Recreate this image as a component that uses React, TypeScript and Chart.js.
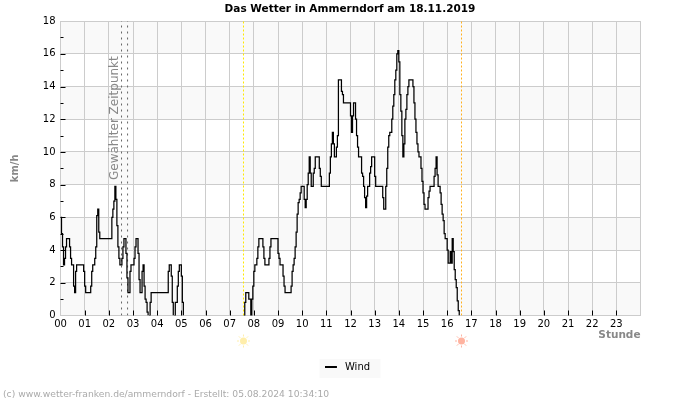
import React, { useEffect, useRef } from "react";
import { Chart, registerables } from "chart.js";

Chart.register(...registerables);

const titleText = "Das Wetter in Ammerndorf am 18.11.2019";
const footerText = "(c) www.wetter-franken.de/ammerndorf - Erstellt: 05.08.2024 10:34:10";
const selectedLabel = "Gewählter Zeitpunkt";
const seriesName = "Wind";

// Wind speed in km/h, one row per hour, 24 readings per hour (every 2.5 minutes).
const h00 = [6.0, 5.0, 4.2, 3.1, 3.5, 4.2, 4.7, 4.7, 4.7, 4.2, 3.5, 3.1, 3.1, 1.8, 1.4, 2.7, 3.1, 3.1, 3.1, 3.1, 3.1, 3.1, 3.1, 2.7];
const h01 = [1.8, 1.4, 1.4, 1.4, 1.4, 1.4, 1.8, 2.7, 3.1, 3.1, 3.5, 4.2, 6.1, 6.5, 5.1, 4.7, 4.7, 4.7, 4.7, 4.7, 4.7, 4.7, 4.7, 4.7];
const h02 = [4.7, 4.7, 4.7, 6.0, 6.5, 7.0, 7.9, 7.1, 5.5, 4.2, 3.5, 3.1, 3.1, 3.5, 4.2, 4.7, 4.7, 3.8, 2.3, 1.4, 1.4, 2.7, 3.1, 3.1];
const h03 = [3.1, 3.5, 4.2, 4.7, 4.7, 3.8, 2.2, 1.4, 1.4, 2.7, 3.1, 1.8, 1.0, 0.8, 0.2, 0, 0, 0.8, 1.4, 1.4, 1.4, 1.4, 1.4, 1.4];
const h04 = [1.4, 1.4, 1.4, 1.4, 1.4, 1.4, 1.4, 1.4, 1.4, 1.4, 1.4, 2.7, 3.1, 3.1, 2.4, 0.8, 0, 0, 0.8, 0.8, 1.8, 2.7, 3.1, 3.1];
const h05 = [2.4, 0.8, 0, 0, 0, 0, 0, 0, 0, 0, 0, 0, 0, 0, 0, 0, 0, 0, 0, 0, 0, 0, 0, 0];
const h06 = [0, 0, 0, 0, 0, 0, 0, 0, 0, 0, 0, 0, 0, 0, 0, 0, 0, 0, 0, 0, 0, 0, 0, 0];
const h07 = [0, 0, 0, 0, 0, 0, 0, 0, 0, 0, 0, 0, 0, 0, 0, 0.8, 1.4, 1.4, 1.4, 1.0, 1.0, 0, 1.0, 1.8];
const h08 = [2.7, 3.1, 3.1, 3.5, 4.2, 4.7, 4.7, 4.7, 4.7, 4.2, 3.5, 3.1, 3.1, 3.1, 3.1, 3.5, 4.2, 4.7, 4.7, 4.7, 4.7, 4.7, 4.7, 4.7];
const h09 = [3.8, 3.5, 3.1, 3.1, 3.1, 2.4, 1.8, 1.4, 1.4, 1.4, 1.4, 1.4, 1.4, 1.8, 2.7, 3.1, 3.5, 4.2, 5.1, 6.2, 6.9, 7.1, 7.5, 7.9];
const h10 = [7.9, 7.9, 7.1, 6.6, 7.1, 8.0, 8.7, 9.7, 8.7, 7.9, 7.9, 8.7, 9.0, 9.7, 9.7, 9.7, 9.7, 9.0, 8.5, 7.9, 7.9, 7.9, 7.9, 7.9];
const h11 = [7.9, 7.9, 7.9, 8.7, 9.7, 10.5, 11.2, 10.5, 9.7, 9.7, 10.3, 11.0, 14.4, 14.4, 14.4, 13.7, 13.5, 13.0, 13.0, 13.0, 13.0, 13.0, 13.0, 13.0];
const h12 = [12.2, 11.2, 12.2, 13.0, 13.0, 12.0, 11.0, 10.3, 9.7, 9.7, 9.7, 8.7, 8.5, 7.9, 7.2, 6.6, 7.3, 7.9, 7.9, 8.7, 9.1, 9.7, 9.7, 9.7];
const h13 = [8.5, 7.9, 7.9, 7.9, 7.9, 7.9, 7.9, 7.9, 7.2, 6.5, 6.5, 7.9, 9.0, 10.3, 11.0, 11.2, 11.2, 12.0, 12.8, 13.5, 14.4, 15.0, 16.0, 16.2];
const h14 = [15.5, 13.5, 12.5, 11.0, 9.7, 10.5, 12.0, 12.6, 13.5, 14.0, 14.4, 14.4, 14.4, 14.4, 14.0, 13.0, 12.0, 11.2, 10.5, 10.0, 9.7, 9.7, 9.0, 8.2];
const h15 = [7.5, 6.8, 6.5, 6.5, 6.5, 7.2, 7.6, 7.9, 7.9, 7.9, 7.9, 8.5, 9.0, 9.7, 8.6, 7.9, 7.9, 7.5, 6.8, 6.2, 5.8, 5.0, 4.7, 4.7];
const h16 = [4.0, 3.2, 3.2, 3.9, 3.2, 4.7, 3.9, 2.8, 2.2, 1.7, 0.9, 0.3, 0];

const windKmh = [h00, h01, h02, h03, h04, h05, h06, h07, h08, h09, h10, h11, h12, h13, h14, h15, h16].flat();
const readingsPerHour = 24;

// Marker times in hours of the day.
const selectedTimes = [2.525, 2.775];
const sunriseTime = 7.572;
const sunsetTime = 16.593;

const font = "'DejaVu Sans', sans-serif";

function vertical(hour: number, color: string, dash: number[]) {
  return {
    label: "",
    data: [{ x: hour, y: 0 }, { x: hour, y: 18 }],
    borderColor: color,
    borderWidth: 1,
    borderDash: dash,
    pointRadius: 0,
    order: 5,
  };
}

// Small soft sun below the hour axis.
function drawSun(ctx: CanvasRenderingContext2D, x: number, y: number, color: string) {
  ctx.save();
  ctx.filter = "blur(0.3px)";
  ctx.strokeStyle = color;
  ctx.fillStyle = color;
  ctx.lineWidth = 1;
  ctx.beginPath();
  ctx.arc(x, y, 3.5, 0, Math.PI * 2);
  ctx.fill();
  for (let i = 0; i < 8; i++) {
    const a = (i * Math.PI) / 4;
    ctx.beginPath();
    ctx.moveTo(x + Math.cos(a) * 4.5, y + Math.sin(a) * 4.5);
    ctx.lineTo(x + Math.cos(a) * 6.5, y + Math.sin(a) * 6.5);
    ctx.stroke();
  }
  ctx.restore();
}

const decorations = {
  id: "weatherDecorations",
  afterLayout(chart: any) {
    chart.legend.left -= 5;
  },
  beforeDraw(chart: any) {
    const { ctx, chartArea, scales } = chart;
    // Alternating horizontal bands between the even speed ticks.
    ctx.save();
    ctx.fillStyle = "#f9f9f9";
    for (let v = 0; v < 18; v += 4) {
      const bottom = scales.y.getPixelForValue(v);
      const top = scales.y.getPixelForValue(v + 2);
      ctx.fillRect(chartArea.left, top, chartArea.right - chartArea.left, bottom - top);
    }
    // Backing of the legend.
    const hit = chart.legend.legendHitBoxes[0];
    ctx.fillRect(hit.left - 5.5, hit.top - 3, 61, 19);
    ctx.restore();
  },
  afterDatasetsDraw(chart: any) {
    const { ctx, chartArea, scales } = chart;
    ctx.save();
    // Inward tick marks: long on even speeds and every hour, short on odd speeds.
    ctx.strokeStyle = "#000";
    ctx.lineWidth = 1;
    for (let v = 1; v < 18; v++) {
      const y = Math.round(scales.y.getPixelForValue(v)) + 0.5;
      ctx.beginPath();
      ctx.moveTo(chartArea.left, y);
      ctx.lineTo(chartArea.left + (v % 2 === 0 ? 5 : 3), y);
      ctx.stroke();
    }
    for (let h = 1; h < 24; h++) {
      const x = Math.round(scales.x.getPixelForValue(h)) + 0.5;
      ctx.beginPath();
      ctx.moveTo(x, chartArea.bottom);
      ctx.lineTo(x, chartArea.bottom - 5);
      ctx.stroke();
    }
    // Label of the selected time, turned along the marker.
    ctx.translate(scales.x.getPixelForValue(selectedTimes[0]) - 3.6, 180);
    ctx.rotate(-Math.PI / 2);
    ctx.font = `12px ${font}`;
    ctx.fillStyle = "#888";
    ctx.textAlign = "left";
    ctx.textBaseline = "alphabetic";
    ctx.fillText(selectedLabel, 0, 0);
    ctx.restore();

    drawSun(ctx, scales.x.getPixelForValue(sunriseTime), 341, "#ffeeaa");
    drawSun(ctx, scales.x.getPixelForValue(sunsetTime), 341, "#ffb3a0");

    ctx.save();
    ctx.font = `9.2px ${font}`;
    ctx.fillStyle = "#aaa";
    ctx.textBaseline = "alphabetic";
    ctx.fillText(footerText, 3, 397);
    ctx.restore();
  },
};

export default function App() {
  const ref = useRef<HTMLCanvasElement>(null);

  useEffect(() => {
    const legendSample = document.createElement("canvas");
    legendSample.width = 15;
    legendSample.height = 2;
    const sampleCtx = legendSample.getContext("2d")!;
    sampleCtx.fillStyle = "#000";
    sampleCtx.fillRect(0, 0, 12, 2);

    const chart = new Chart(ref.current!, {
      type: "line",
      data: {
        datasets: [
          {
            label: seriesName,
            data: windKmh.map((y, i) => ({ x: i / readingsPerHour, y })),
            borderColor: "#000",
            backgroundColor: "#000",
            borderWidth: 1.25,
            stepped: true,
            pointRadius: 0,
            pointStyle: legendSample,
            order: 1,
            // Calm stretches stay off the axis line.
            segment: {
              borderColor: (c: any) => (c.p0.parsed.y === 0 && c.p1.parsed.y === 0 ? "transparent" : undefined),
            },
          },
          vertical(selectedTimes[0], "#666", [2, 4]),
          vertical(selectedTimes[1], "#666", [2, 4]),
          vertical(sunriseTime, "#ffe800", [2, 2]),
          vertical(sunsetTime, "#ffb020", [2, 2]),
        ] as any,
      },
      options: {
        responsive: false,
        animation: false,
        events: [],
        layout: { padding: { left: 0, right: 0, top: 0, bottom: 18 } },
        plugins: {
          tooltip: { enabled: false },
          title: {
            display: true,
            text: titleText,
            color: "#000",
            font: { family: font, size: 10.5, weight: "bold" },
            padding: { top: 3, bottom: 5.5 },
          },
          legend: {
            display: true,
            position: "bottom",
            labels: {
              color: "#000",
              font: { family: font, size: 10 },
              usePointStyle: true,
              pointStyleWidth: 15,
              padding: 0,
              filter: (item: any) => item.datasetIndex === 0,
            },
          },
        },
        scales: {
          x: {
            type: "linear",
            min: 0,
            max: 24,
            afterFit: (s: any) => {
              s.height = 46.5;
            },
            grid: { color: "#ccc", drawTicks: false },
            border: { color: "#ccc" },
            title: {
              display: true,
              text: "Stunde",
              align: "end",
              color: "#888",
              font: { family: font, size: 10.5, weight: "bold" },
              padding: { top: 0, bottom: 20.5 },
            },
            ticks: {
              stepSize: 1,
              autoSkip: false,
              maxRotation: 0,
              padding: 3,
              color: "#000",
              font: { family: font, size: 10 },
              callback: (v: any) => (Number(v) < 24 ? String(v).padStart(2, "0") : ""),
            },
          },
          y: {
            min: 0,
            max: 18,
            afterFit: (s: any) => {
              s.width = 60.5;
            },
            grid: { color: "#ccc", drawTicks: false },
            border: { color: "#ccc" },
            title: {
              display: true,
              text: "km/h",
              color: "#888",
              font: { family: font, size: 10, weight: "bold" },
              padding: { top: 9, bottom: 0 },
            },
            ticks: {
              stepSize: 2,
              padding: 5,
              color: "#000",
              font: { family: font, size: 10 },
            },
          },
          // Empty right-hand gutter keeps the plot clear of the page edge.
          gutter: {
            position: "right",
            display: true,
            afterFit: (s: any) => {
              s.width = 59.5;
            },
            grid: { display: false },
            border: { display: false },
            ticks: { display: false },
          },
        } as any,
      },
      plugins: [decorations],
    });
    return () => chart.destroy();
  }, []);

  return (
    <div style={{ position: "absolute", left: 0, top: 0 }}>
      <canvas ref={ref} width={700} height={400} style={{ display: "block" }} />
    </div>
  );
}
